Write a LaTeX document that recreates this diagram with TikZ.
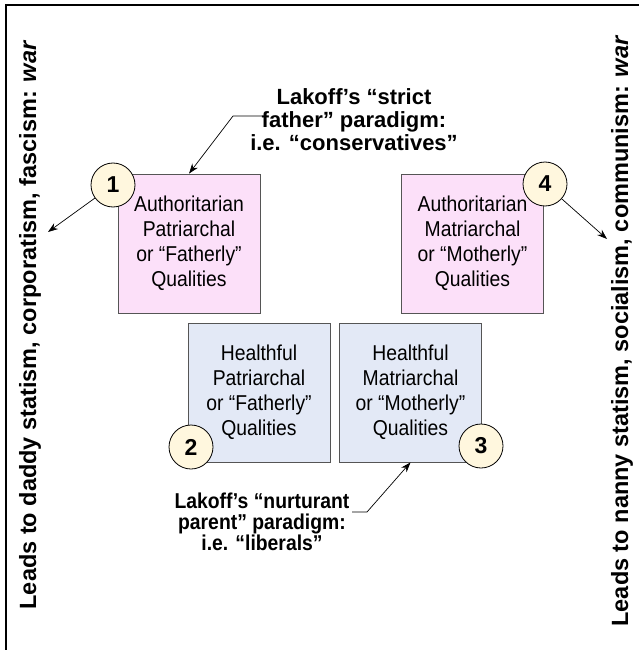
\documentclass[tikz,border=0pt]{standalone}
\usepackage{fontspec}
\setmainfont{Liberation Sans}
\newfontfamily\boxfont[FakeStretch=0.9]{Liberation Sans}
\newfontfamily\narrowbold[FakeStretch=0.9]{Liberation Sans}
\usetikzlibrary{arrows.meta,calc}
\definecolor{pinkfill}{RGB}{252,224,249}
\definecolor{bluefill}{RGB}{227,233,246}
\definecolor{circfill}{RGB}{255,247,222}
\definecolor{boxline}{RGB}{85,85,85}
\begin{document}
\begin{tikzpicture}[x=1pt,y=-1pt,
  qbox/.style={draw=boxline, line width=0.8pt, minimum width=142pt, minimum height=139pt, inner sep=0pt, align=center, font=\boxfont\fontsize{21.5}{25}\selectfont},
  numc/.style={circle, draw=black, line width=0.8pt, fill=circfill, minimum size=44pt, inner sep=0pt, font=\fontsize{23}{23}\selectfont\bfseries},
  lak/.style={align=center, font=\fontsize{22}{23}\selectfont\bfseries, inner sep=0pt},
  laksmall/.style={align=center, font=\narrowbold\fontsize{21.5}{21}\selectfont\bfseries, inner sep=0pt},
  side/.style={rotate=90, font=\fontsize{23.5}{24}\selectfont\bfseries, inner sep=0pt},
  arr/.style={-{Stealth[length=10pt,width=7pt]}, line width=0.7pt},
]
\useasboundingbox (0,0) rectangle (639,650);
\fill[white] (0,0) rectangle (639,650);
\draw[line width=2pt] (641,5) -- (6,5) -- (6,652);

% side texts
\node[side] (lside) at (30,325) {Leads to daddy statism, corporatism, fascism: \textit{war}};
\node[side] (rside) at (622,331) {Leads to nanny statism, socialism, communism: \textit{war}};

% boxes
\node[qbox, fill=pinkfill] (b1) at (189,243.5) {Authoritarian\\Patriarchal\\or “Fatherly”\\Qualities};
\node[qbox, fill=pinkfill] (b4) at (472.5,243.5) {Authoritarian\\Matriarchal\\or “Motherly”\\Qualities};
\node[qbox, fill=bluefill] (b2) at (259,392.5) {Healthful\\Patriarchal\\or “Fatherly”\\Qualities};
\node[qbox, fill=bluefill] (b3) at (410.5,392.5) {Healthful\\Matriarchal\\or “Motherly”\\Qualities};

% number circles
\node[numc] (c1) at (113,185) {1};
\node[numc] (c4) at (545,184) {4};
\node[numc] (c2) at (191,447) {2};
\node[numc] (c3) at (481,446) {3};

% Lakoff texts
\node[lak] (sf) at (354,120) {Lakoff’s “strict\\father” paradigm:\\i.e. “conservatives”};
\node[laksmall] (np) at (262,522) {Lakoff’s “nurturant\\parent” paradigm:\\i.e. “liberals”};

% arrows from circles
\coordinate (lend) at (48,232);
\coordinate (rend) at (607,239);
\draw[arr] (c1) -- (lend);
\draw[arr] (c4) -- (rend);

% callouts
\draw[arr] ($(sf.center)+(-92,-4)$) -- ++(-29,0) -- (b1.north);
\draw[arr] ($(np.center)+(90,-10)$) -- ++(15,0) -- (b3.south);
\end{tikzpicture}
\end{document}
